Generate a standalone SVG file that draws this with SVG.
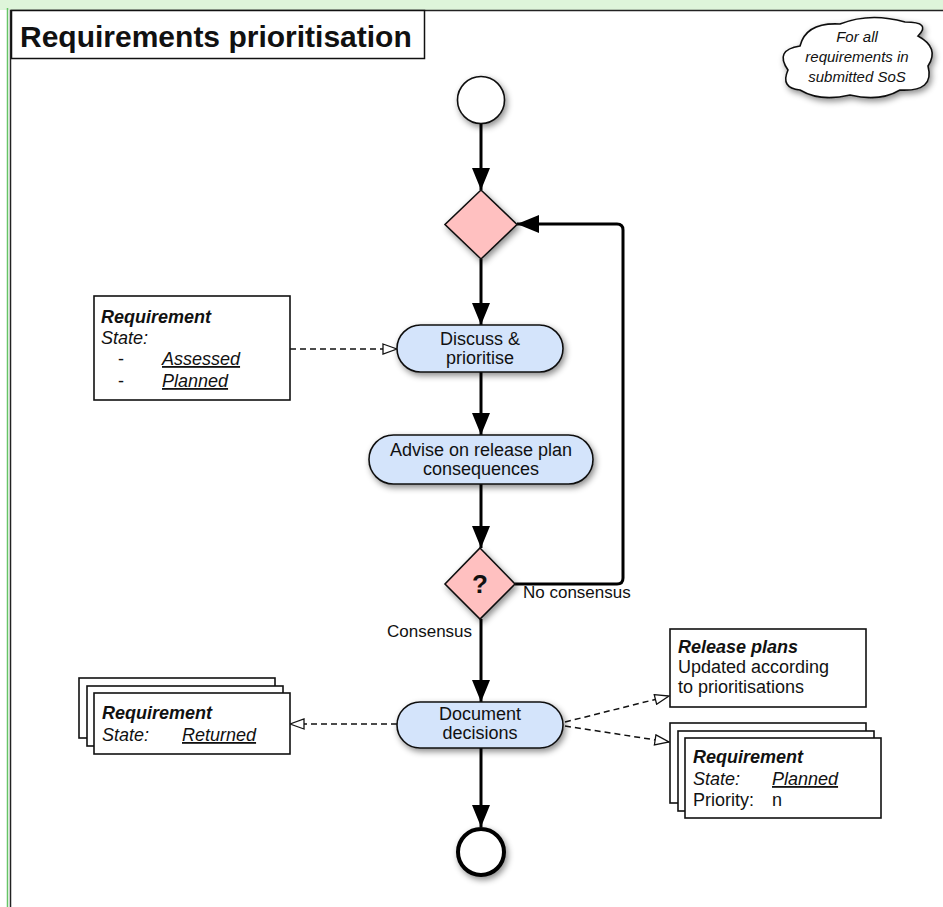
<svg xmlns="http://www.w3.org/2000/svg" width="943" height="907" viewBox="0 0 943 907">
<defs>
<style>
text{font-family:"Liberation Sans",Arial,Helvetica,sans-serif;fill:#111}
.node{fill:#d4e4fb;stroke:#111;stroke-width:1.6}
.dia{fill:#ffc0c0;stroke:#111;stroke-width:1.6}
.box{fill:#fff;stroke:#111;stroke-width:1.6}
.nt{font-size:18px;text-anchor:middle}
.bt{font-size:18px}
.bi{font-size:18px;font-weight:bold;font-style:italic}
.it{font-style:italic}
.u{text-decoration:underline}
.flow{fill:none;stroke:#000;stroke-width:3}
.dep{fill:none;stroke:#111;stroke-width:1.5;stroke-dasharray:6 4}
</style>
<filter id="sh" x="-30%" y="-30%" width="160%" height="170%">
<feDropShadow dx="2" dy="3" stdDeviation="3" flood-color="#000" flood-opacity="0.45"/>
</filter>
<marker id="arr" markerUnits="userSpaceOnUse" markerWidth="24" markerHeight="18" refX="22" refY="9" orient="auto">
<path d="M0,0 L22,9 L0,18 Z" fill="#000"/>
</marker>
<marker id="open" markerUnits="userSpaceOnUse" markerWidth="16" markerHeight="12" refX="15" refY="6" orient="auto">
<path d="M1,1 L15,6 L1,11 Z" fill="#fff" stroke="#111" stroke-width="1.3"/>
</marker>
</defs>

<rect x="0" y="0" width="943" height="907" fill="#fff"/>
<rect x="0" y="0" width="943" height="10" fill="#def5da"/>
<line x1="7.5" y1="8" x2="7.5" y2="907" stroke="#66c466" stroke-width="1.5"/>
<path d="M10.5,907 V10.5 H943" fill="none" stroke="#222" stroke-width="1.5"/>

<g id="title">
<rect x="11.5" y="10.5" width="413" height="48" fill="#fff" stroke="#111" stroke-width="1.5"/>
<text x="20" y="47" style="font-size:30px;font-weight:bold">Requirements prioritisation</text>
</g>

<g id="cloud">
<path filter="url(#sh)" d="M800,90 Q780,88 788,70 Q774,50 800,46 Q806,22 840,24 Q870,12 905,22 Q932,22 918,36 Q940,48 928,66 Q935,92 900,90 Q880,102 850,95 Q820,102 800,90 Z" fill="#fff" stroke="#111" stroke-width="1.6"/>
<text class="it" x="857" y="42" style="font-size:15px;text-anchor:middle">For all</text>
<text class="it" x="857" y="62" style="font-size:15px;text-anchor:middle">requirements in</text>
<text class="it" x="857" y="82" style="font-size:15px;text-anchor:middle">submitted SoS</text>
</g>

<g id="connectors">
<line class="flow" x1="481" y1="124" x2="481" y2="190" marker-end="url(#arr)"/>
<line class="flow" x1="481" y1="259" x2="481" y2="325" marker-end="url(#arr)"/>
<line class="flow" x1="481" y1="372" x2="481" y2="435" marker-end="url(#arr)"/>
<line class="flow" x1="481" y1="484" x2="481" y2="548" marker-end="url(#arr)"/>
<path class="flow" d="M515,584 H617 Q623,584 623,578 V230 Q623,224 617,224 H517" marker-end="url(#arr)"/>
<line class="flow" x1="481" y1="619" x2="481" y2="702" marker-end="url(#arr)"/>
<line class="flow" x1="481" y1="748" x2="481" y2="827" marker-end="url(#arr)"/>
<line class="dep" x1="290" y1="349" x2="397" y2="349" marker-end="url(#open)"/>
<line class="dep" x1="397" y1="724" x2="290" y2="724" marker-end="url(#open)"/>
<line class="dep" x1="565" y1="722" x2="669" y2="696" marker-end="url(#open)"/>
<line class="dep" x1="565" y1="726" x2="669" y2="742" marker-end="url(#open)"/>
<text x="523" y="598" style="font-size:17px">No consensus</text>
<text x="387" y="637" style="font-size:17px">Consensus</text>
</g>

<g id="start">
<circle cx="481" cy="100" r="23.5" fill="#fff" stroke="#111" stroke-width="1.6" filter="url(#sh)"/>
</g>

<g id="merge">
<path class="dia" d="M481,190 L517,224.5 L481,259 L445,224.5 Z" filter="url(#sh)"/>
</g>

<g id="discuss">
<rect class="node" x="397" y="325" width="166" height="47" rx="23.5" filter="url(#sh)"/>
<text class="nt" x="480" y="345">Discuss &amp;</text>
<text class="nt" x="480" y="364">prioritise</text>
</g>

<g id="advise">
<rect class="node" x="369" y="435" width="224" height="49" rx="24.5" filter="url(#sh)"/>
<text class="nt" x="481" y="456">Advise on release plan</text>
<text class="nt" x="481" y="475">consequences</text>
</g>

<g id="decision">
<path class="dia" d="M480,548 L515,584 L480,619 L445,584 Z" filter="url(#sh)"/>
<text x="480" y="593" style="font-size:26px;font-weight:bold;text-anchor:middle">?</text>
</g>

<g id="document">
<rect class="node" x="397" y="702" width="166" height="46" rx="23" filter="url(#sh)"/>
<text class="nt" x="480" y="720">Document</text>
<text class="nt" x="480" y="739">decisions</text>
</g>

<g id="end">
<circle cx="481" cy="852" r="23" fill="#fff" stroke="#000" stroke-width="4" filter="url(#sh)"/>
</g>

<g id="req-assessed">
<rect class="box" x="94" y="296" width="196" height="104"/>
<text class="bi" x="101" y="323">Requirement</text>
<text class="bt it" x="101" y="344">State:</text>
<text class="bt" x="118" y="365">-</text>
<text class="bt it u" x="162" y="365">Assessed</text>
<text class="bt" x="118" y="387">-</text>
<text class="bt it u" x="162" y="387">Planned</text>
</g>

<g id="req-returned">
<rect class="box" x="79" y="678" width="196" height="60"/>
<rect class="box" x="87" y="686" width="196" height="60"/>
<rect class="box" x="94" y="693" width="196" height="61"/>
<text class="bi" x="102" y="719">Requirement</text>
<text class="bt it" x="102" y="741">State:</text>
<text class="bt it u" x="182" y="741">Returned</text>
</g>

<g id="release-plans">
<rect class="box" x="670" y="629" width="196" height="78"/>
<text class="bi" x="678" y="653">Release plans</text>
<text class="bt" x="678" y="673">Updated according</text>
<text class="bt" x="678" y="693">to prioritisations</text>
</g>

<g id="req-planned">
<rect class="box" x="670" y="723" width="196" height="80"/>
<rect class="box" x="678" y="731" width="196" height="80"/>
<rect class="box" x="685" y="738" width="196" height="80"/>
<text class="bi" x="693" y="763">Requirement</text>
<text class="bt it" x="693" y="785">State:</text>
<text class="bt it u" x="772" y="785">Planned</text>
<text class="bt" x="693" y="806">Priority:</text>
<text class="bt" x="772" y="806">n</text>
</g>
</svg>
